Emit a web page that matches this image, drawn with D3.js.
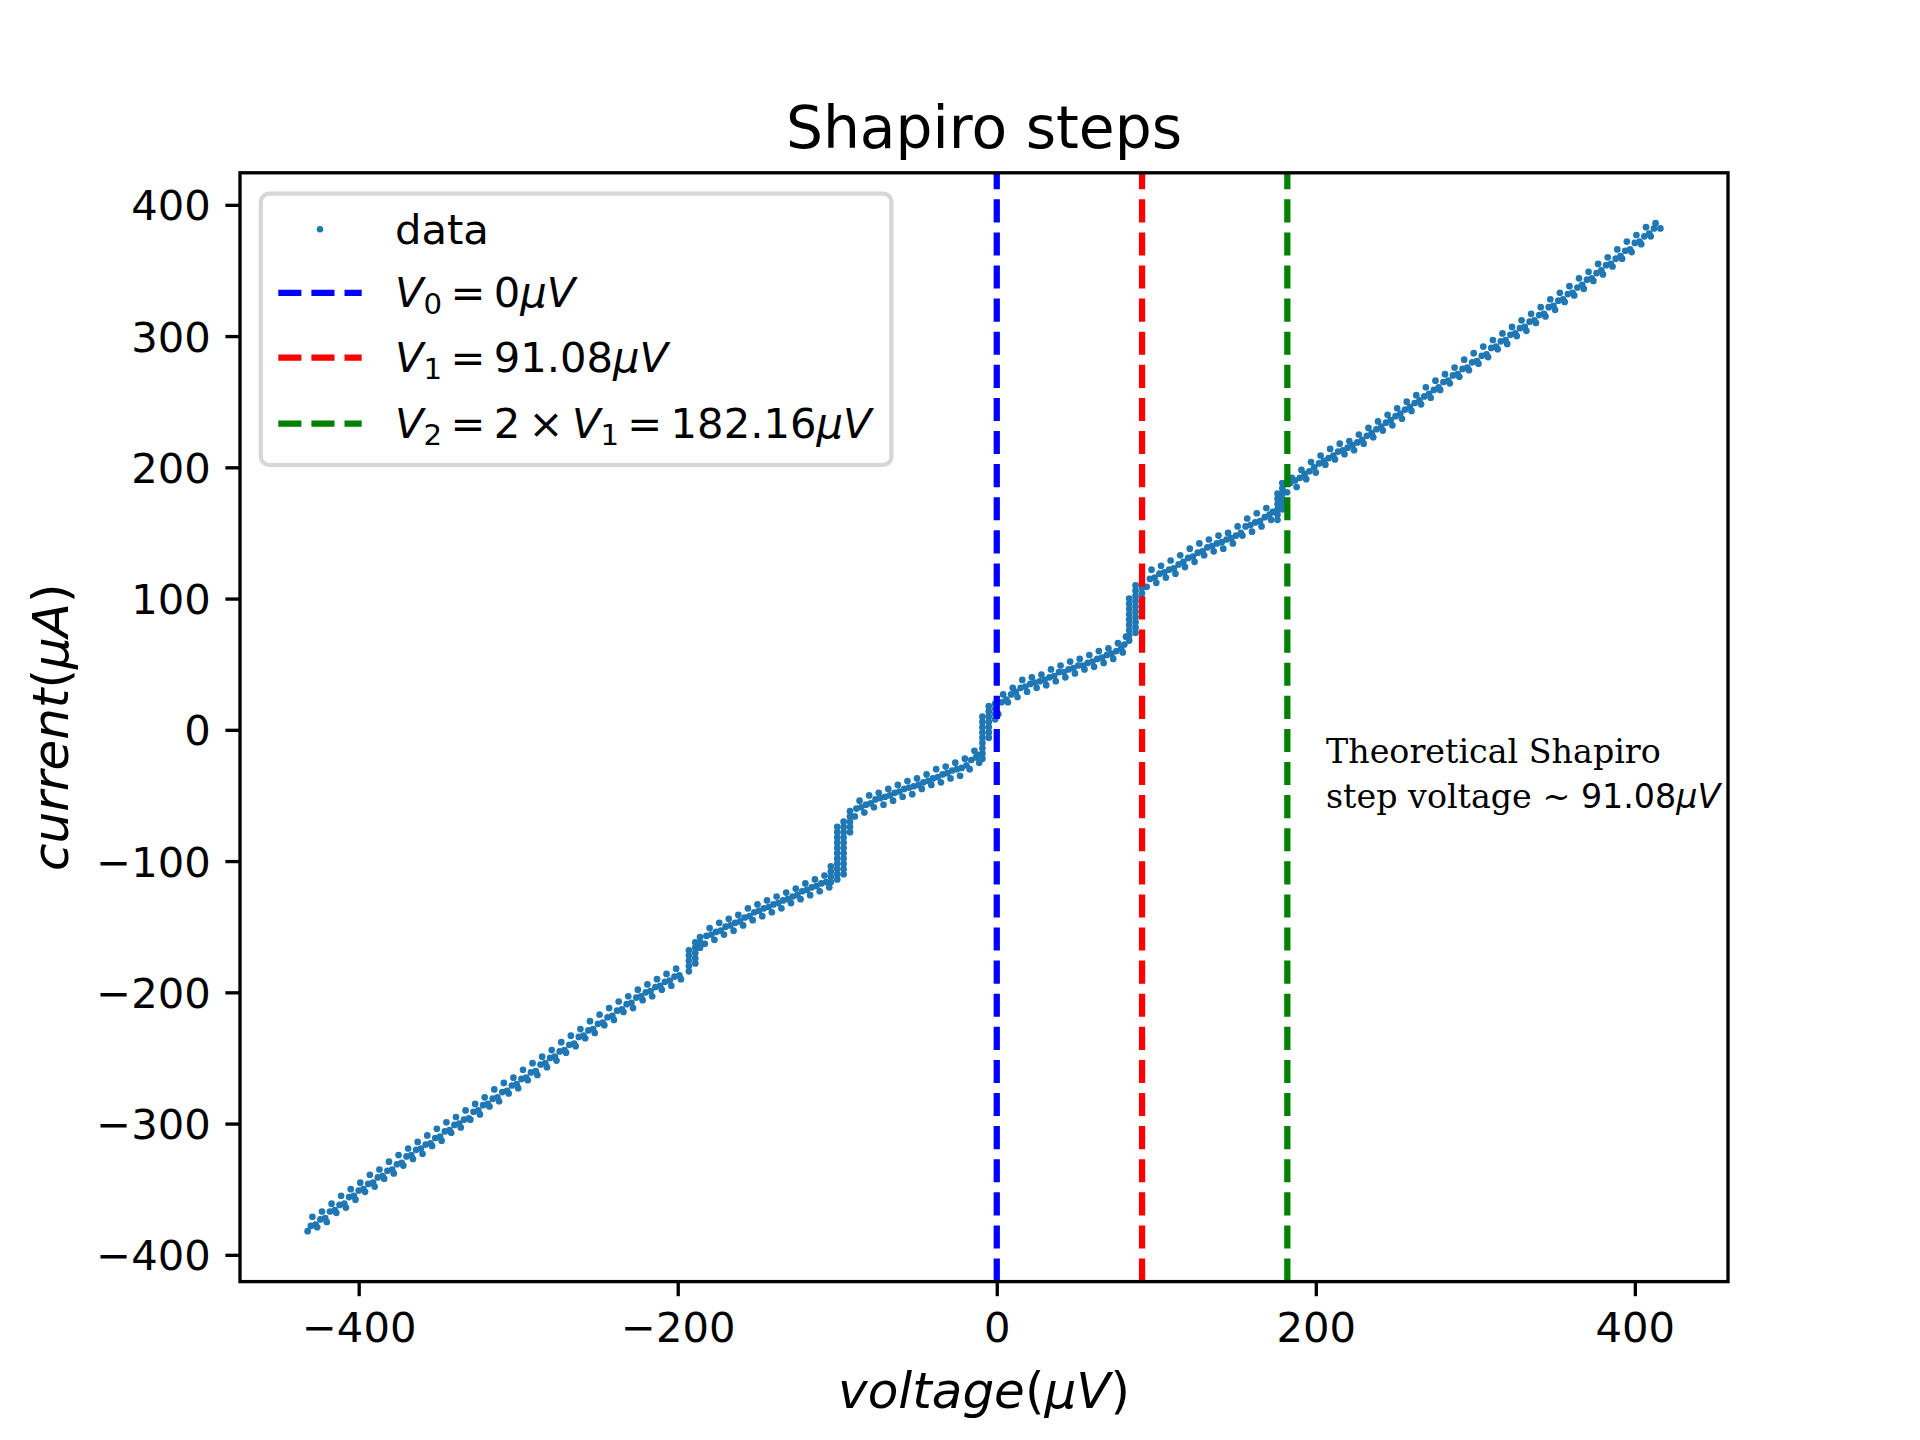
<!DOCTYPE html>
<html>
<head>
<meta charset="utf-8">
<script src="https://cdn.jsdelivr.net/npm/d3@7"></script>
<style>
  body { margin: 0; background: #fff; }
  text { white-space: pre; }
</style>
</head>
<body>
<div id="chart"></div>
<script>
// voltage (µV), current (µA): lower edge of the band
const branchLower = [
  [-432,-382],[-426,-379],[-420,-375],[-414,-368],[-408,-364],[-402,-358],[-396,-352],[-390,-348],[-384,-342],[-378,-338],
  [-372,-332],[-366,-327],[-360,-323],[-354,-317],[-348,-313],[-342,-307],[-336,-303],[-330,-297],[-324,-293],[-318,-287],
  [-312,-283],[-306,-277],[-300,-273],[-294,-267],[-288,-263],[-282,-257],[-276,-252],[-270,-246],[-264,-241],[-258,-235],
  [-252,-231],[-246,-225],[-240,-221],[-234,-215],[-228,-212],[-222,-206],[-216,-203],[-210,-198],[-204,-195],[-198,-190],
  [-183,-163],[-177,-160],[-171,-156],[-165,-153],[-159,-149],[-153,-145],[-147,-142],[-141,-139],[-135,-136],[-129,-132],
  [-123,-129],[-117,-126],[-111,-123],[-105,-120],
  [-89,-66],[-83,-63],[-77,-59],[-71,-57],[-65,-54],[-59,-51],[-53,-49],[-47,-45],[-41,-42],[-35,-40],
  [-29,-37],[-23,-35],[-17,-30],[-11,-25],
  [1,12],[7,21],[13,25],[19,29],[25,32],[31,34],[37,37],[43,40],[49,43],[55,46],[61,48],[67,51],[73,54],[79,59],
  [94,109],[100,112],[106,116],[112,119],[118,124],[124,128],[130,133],[136,136],[142,138],[148,142],[154,148],[160,151],
  [166,155],[172,160],
  [182,181],[188,185],[194,191],[200,196],[206,202],[212,206],[218,210],[224,213],[230,218],[236,223],[242,228],[248,232],
  [254,237],[260,243],[266,248],[272,253],[278,259],[284,264],[290,269],[296,274],[302,279],[308,284],[314,290],[320,294],
  [326,300],[332,304],[338,310],[344,315],[350,320],[356,326],[362,331],[368,336],[374,342],[380,347],[386,353],[392,359],
  [398,364],[404,370],[410,376],[416,382]
];

// middle of the band
const branchMiddle = [
  [-430,-378],[-424,-373],[-418,-367],[-412,-362],[-406,-356],[-400,-351],[-394,-346],[-388,-341],[-382,-336],[-376,-331],
  [-370,-325],[-364,-320],[-358,-316],[-352,-311],[-346,-306],[-340,-301],[-334,-297],[-328,-291],[-322,-286],[-316,-281],
  [-310,-276],[-304,-271],[-298,-266],[-292,-261],[-286,-255],[-280,-250],[-274,-245],[-268,-240],[-262,-234],[-256,-229],
  [-250,-224],[-244,-219],[-238,-214],[-232,-209],[-226,-204],[-220,-200],[-214,-196],[-208,-192],[-202,-188],
  [-182,-157],[-176,-154],[-170,-150],[-164,-147],[-158,-143],[-152,-139],[-146,-136],[-140,-133],[-134,-130],[-128,-127],
  [-122,-123],[-116,-120],[-110,-117],
  [-88,-60],[-82,-57],[-76,-53],[-70,-51],[-64,-48],[-58,-45],[-52,-43],[-46,-40],[-40,-37],[-34,-34],[-28,-31],[-22,-29],
  [-16,-23],[-12,-19],
  [3,21],[9,27],[15,32],[21,35],[27,37],[33,40],[39,44],[45,46],[51,49],[57,51],[63,54],[69,57],[75,60],[80,65],
  [96,115],[102,119],[108,122],[114,126],[120,131],[126,135],[132,139],[138,142],[144,145],[150,148],[156,155],[162,158],
  [168,162],[173,166],
  [184,188],[190,192],[196,197],[202,203],[208,207],[214,212],[220,215],[226,219],[232,224],[238,229],[244,234],[250,239],
  [256,244],[262,249],[268,254],[274,259],[280,265],[286,270],[292,275],[298,280],[304,285],[310,291],[316,296],[322,301],
  [328,306],[334,311],[340,316],[346,322],[352,327],[358,332],[364,337],[370,343],[376,348],[382,354],[388,359],[394,365],
  [400,371],[406,376],[412,382]
];

// second pass, between lower edge and middle
const branchInner = [
  [-427,-377],[-421,-372],[-415,-366],[-409,-361],[-403,-355],[-397,-350],[-391,-345],[-385,-340],[-379,-335],[-373,-330],
  [-367,-324],[-361,-319],[-355,-315],[-349,-310],[-343,-305],[-337,-300],[-331,-296],[-325,-290],[-319,-285],[-313,-280],
  [-307,-275],[-301,-270],[-295,-265],[-289,-260],[-283,-254],[-277,-249],[-271,-244],[-265,-239],[-259,-233],[-253,-228],
  [-247,-223],[-241,-218],[-235,-213],[-229,-208],[-223,-203],[-217,-199],[-211,-195],[-205,-191],[-199,-187],
  [-179,-156],[-173,-153],[-167,-149],[-161,-146],[-155,-142],[-149,-138],[-143,-135],[-137,-132],[-131,-129],[-125,-126],
  [-119,-122],[-113,-119],[-107,-116],
  [-85,-59],[-79,-56],[-73,-52],[-67,-50],[-61,-47],[-55,-44],[-49,-42],[-43,-39],[-37,-36],[-31,-33],[-25,-30],[-19,-27],
  [-13,-21],
  [6,23],[12,29],[18,33],[24,36],[30,38],[36,41],[42,44],[48,47],[54,49],[60,52],[66,55],[72,58],[78,62],
  [99,116],[105,120],[111,123],[117,128],[123,132],[129,136],[135,140],[141,143],[147,146],[153,150],[159,156],[165,159],
  [171,164],
  [187,190],[193,195],[199,200],[205,205],[211,209],[217,213],[223,217],[229,221],[235,226],[241,231],[247,236],[253,241],
  [259,246],[265,251],[271,256],[277,261],[283,266],[289,271],[295,276],[301,281],[307,286],[313,292],[319,297],[325,302],
  [331,307],[337,312],[343,317],[349,323],[355,328],[361,333],[367,339],[373,344],[379,350],[385,355],[391,361],[397,366],
  [403,372],[409,378]
];

// upper edge of the band
const branchUpper = [
  [-429,-371],[-423,-367],[-417,-361],[-411,-355],[-405,-350],[-399,-345],[-393,-339],[-387,-335],[-381,-329],[-375,-324],
  [-369,-319],[-363,-314],[-357,-309],[-351,-304],[-345,-299],[-339,-295],[-333,-290],[-327,-285],[-321,-280],[-315,-274],
  [-309,-269],[-303,-265],[-297,-259],[-291,-254],[-285,-249],[-279,-244],[-273,-238],[-267,-233],[-261,-228],[-255,-222],
  [-249,-217],[-243,-212],[-237,-207],[-231,-203],[-225,-198],[-219,-194],[-213,-190],[-207,-186],[-201,-182],
  [-180,-151],[-174,-147],[-168,-144],[-162,-141],[-156,-136],[-150,-133],[-144,-130],[-138,-127],[-132,-124],[-126,-121],
  [-120,-117],[-114,-114],[-108,-111],
  [-86,-54],[-80,-50],[-74,-48],[-68,-45],[-62,-42],[-56,-39],[-50,-37],[-44,-34],[-38,-30],[-32,-28],[-26,-25],[-20,-22],
  [-14,-16],
  [4,27],[10,32],[16,38],[22,40],[28,42],[34,46],[40,49],[46,52],[52,54],[58,57],[64,60],[70,62],[76,66],[81,71],
  [97,122],[103,125],[109,129],[115,133],[121,138],[127,142],[133,145],[139,148],[145,150],[151,155],[157,161],[163,165],
  [169,169],
  [185,192],[191,198],[197,204],[203,209],[209,214],[215,218],[221,220],[227,225],[233,230],[239,235],[245,240],[251,245],
  [257,250],[263,255],[269,261],[275,266],[281,271],[287,276],[293,282],[299,287],[305,292],[311,297],[317,302],[323,307],
  [329,312],[335,317],[341,322],[347,328],[353,333],[359,338],[365,344],[371,349],[377,355],[383,360],[389,366],[395,372],
  [401,377],[407,383],[413,386]
];

// points stacked on the vertical steps
const stepRisers = [
  [-193,-184],[-193,-180],[-193,-176],[-193,-172],[-193,-168],[-189,-178],[-189,-174],[-189,-170],[-189,-166],[-189,-162],
  [-186,-166],[-186,-162],[-186,-158],
  [-104,-116],[-104,-112],[-104,-108],[-104,-104],
  [-100,-114],[-100,-110],[-100,-106],[-100,-102],[-100,-98],[-100,-94],[-100,-90],[-100,-86],[-100,-82],[-100,-78],[-100,-74],
  [-96,-110],[-96,-106],[-96,-102],[-96,-98],[-96,-94],[-96,-90],[-96,-86],[-96,-82],[-96,-78],[-96,-74],[-96,-70],
  [-92,-78],[-92,-74],[-92,-70],[-92,-66],[-92,-62],
  [-9,-22],[-9,-18],[-9,-14],[-9,-10],[-9,-6],[-9,-2],[-9,2],[-9,6],[-9,10],
  [-5,-6],[-5,-2],[-5,2],[-5,6],[-5,10],[-5,14],[-5,18],[-1,8],[-1,12],[-1,16],[-1,20],
  [83,68],[83,72],[83,76],[83,80],[83,84],[83,88],[83,92],[83,96],[83,100],
  [87,74],[87,78],[87,82],[87,86],[87,90],[87,94],[87,98],[87,102],[87,106],[87,110],
  [91,100],[91,104],[91,108],[91,112],
  [176,160],[176,164],[176,168],[176,172],[176,176],[176,180],[179,168],[179,172],[179,176],[179,180],[179,184],[179,188]
];

const stepVoltages = [0, 91.08, 182.16];
const xTicks = [-400, -200, 0, 200, 400];
const yTicks = [-400, -300, -200, -100, 0, 100, 200, 300, 400];

// label pieces: r = upright math, i = italic, sub = subscript, serif = serif text
const legendLabels = [
  [['data', 'plain']],
  [['V', 'i'], ['0', 'sub'], [' = 0', 'r'], ['μV', 'i']],
  [['V', 'i'], ['1', 'sub'], [' = 91.08', 'r'], ['μV', 'i']],
  [['V', 'i'], ['2', 'sub'], [' = 2 × ', 'r'], ['V', 'i'], ['1', 'sub'], [' = 182.16', 'r'], ['μV', 'i']]
];
const noteLines = [
  [['Theoretical Shapiro', 'serif']],
  [['step voltage ~ ', 'serif'], ['91.08', 'r'], ['μV', 'i']]
];

const W = 1920, H = 1440;
const margin = { left: 240, right: 1728, top: 172.8, bottom: 1281.6 };
const lineColors = ['#0000ff', '#ff0000', '#008000'];
const dotColor = '#1f77b4';
const FONT = 'DejaVu Sans';

const allPoints = branchLower.concat(branchMiddle, branchInner, branchUpper, stepRisers);

// matplotlib style 5% margins
const padded = ext => {
  const d = ext[1] - ext[0];
  return [ext[0] - 0.05 * d, ext[1] + 0.05 * d];
};

const x = d3.scaleLinear()
  .domain(padded(d3.extent(allPoints, d => d[0])))
  .range([margin.left, margin.right]);
const y = d3.scaleLinear()
  .domain(padded(d3.extent(allPoints, d => d[1])))
  .range([margin.bottom, margin.top]);

const svg = d3.select('#chart').append('svg')
  .attr('width', W)
  .attr('height', H)
  .attr('viewBox', `0 0 ${W} ${H}`)
  .style('font-family', FONT);

svg.append('rect').attr('width', W).attr('height', H).attr('fill', '#fff');

// write mathtext-like pieces; spaces in math parts become narrow gaps
function writeParts(textSel, parts, size) {
  let shifted = false;
  let gap = 0;
  parts.forEach(([t, kind]) => {
    const tokens = (kind === 'r') ? t.split(' ') : [t];
    tokens.forEach((tok, k) => {
      if (k > 0) gap += size * 0.2;
      if (!tok) return;
      const ts = textSel.append('tspan').text(tok);
      if (gap) { ts.attr('dx', gap); gap = 0; }
      if (kind === 'sub') {
        ts.attr('font-size', size * 0.7).attr('dy', size * 0.16);
        shifted = true;
        return;
      }
      if (shifted) { ts.attr('dy', -size * 0.16); shifted = false; }
      if (kind === 'i') ts.attr('font-style', 'italic');
      if (kind === 'serif') ts.attr('font-family', 'DejaVu Serif');
    });
  });
}

// data points
svg.append('g')
  .selectAll('circle')
  .data(allPoints)
  .enter().append('circle')
  .attr('cx', d => x(d[0]))
  .attr('cy', d => y(d[1]))
  .attr('r', 3.35)
  .attr('fill', dotColor);

// dashed step lines, drawn bottom to top like axvline
svg.append('g')
  .selectAll('line')
  .data(stepVoltages)
  .enter().append('line')
  .attr('x1', d => x(d)).attr('x2', d => x(d))
  .attr('y1', margin.bottom).attr('y2', margin.top)
  .attr('stroke', (d, i) => lineColors[i])
  .attr('stroke-width', 6.25)
  .attr('stroke-dasharray', '23.1,10');

// axes
const fmt = v => (v < 0 ? '\u2212' + Math.abs(v) : String(v));

const xAxis = svg.append('g')
  .attr('transform', `translate(0,${margin.bottom})`)
  .call(d3.axisBottom(x).tickValues(xTicks).tickFormat(fmt).tickSize(14.6).tickPadding(14.6));
const yAxis = svg.append('g')
  .attr('transform', `translate(${margin.left},0)`)
  .call(d3.axisLeft(y).tickValues(yTicks).tickFormat(fmt).tickSize(14.6).tickPadding(14.6));

[xAxis, yAxis].forEach(ax => {
  ax.select('.domain').remove();
  ax.selectAll('line').attr('stroke', '#000').attr('stroke-width', 3.33);
  ax.selectAll('text')
    .attr('font-family', FONT)
    .attr('font-size', 41.7)
    .attr('fill', '#000');
});
xAxis.selectAll('text').attr('dy', '0.76em');
yAxis.selectAll('text').attr('dy', '0.36em');

// spines
svg.append('rect')
  .attr('x', margin.left).attr('y', margin.top)
  .attr('width', margin.right - margin.left)
  .attr('height', margin.bottom - margin.top)
  .attr('fill', 'none')
  .attr('stroke', '#000')
  .attr('stroke-width', 3.33);

// title and axis labels
svg.append('text')
  .attr('x', (margin.left + margin.right) / 2)
  .attr('y', 147.8)
  .attr('text-anchor', 'middle')
  .attr('font-size', 58.3)
  .text('Shapiro steps');

const xLabel = svg.append('text')
  .attr('x', (margin.left + margin.right) / 2)
  .attr('y', 1408)
  .attr('text-anchor', 'middle')
  .attr('font-size', 50);
writeParts(xLabel, [['voltage', 'i'], ['(', 'plain'], ['μV', 'i'], [')', 'plain']], 50);

const yLabel = svg.append('text')
  .attr('transform', `translate(68,${(margin.top + margin.bottom) / 2}) rotate(-90)`)
  .attr('text-anchor', 'middle')
  .attr('font-size', 50);
writeParts(yLabel, [['current', 'i'], ['(', 'plain'], ['μA', 'i'], [')', 'plain']], 50);

// note
noteLines.forEach((parts, i) => {
  const t = svg.append('text')
    .attr('x', 1326)
    .attr('y', 763 + i * 45)
    .attr('font-size', 33.3);
  writeParts(t, parts, 33.3);
});

// legend
const legend = svg.append('g');
legend.append('rect')
  .attr('x', 260.8).attr('y', 193.6)
  .attr('width', 630.6).attr('height', 271.4)
  .attr('rx', 8.3).attr('ry', 8.3)
  .attr('fill', '#fff').attr('fill-opacity', 0.8)
  .attr('stroke', '#d6d6d6').attr('stroke-width', 4.17);

const rowY = [229.3, 292.8, 357.6, 423.6];
const baseY = [243.6, 307.4, 372.2, 438.2];

legend.append('circle')
  .attr('cx', 320).attr('cy', rowY[0]).attr('r', 3.2).attr('fill', dotColor);

stepVoltages.forEach((v, i) => {
  legend.append('line')
    .attr('x1', 278.3).attr('x2', 361.7)
    .attr('y1', rowY[i + 1]).attr('y2', rowY[i + 1])
    .attr('stroke', lineColors[i])
    .attr('stroke-width', 6.25)
    .attr('stroke-dasharray', '23.1,10');
});

legendLabels.forEach((parts, i) => {
  const t = legend.append('text')
    .attr('x', 395)
    .attr('y', baseY[i])
    .attr('font-size', 41.7);
  writeParts(t, parts, 41.7);
});
</script>
</body>
</html>
